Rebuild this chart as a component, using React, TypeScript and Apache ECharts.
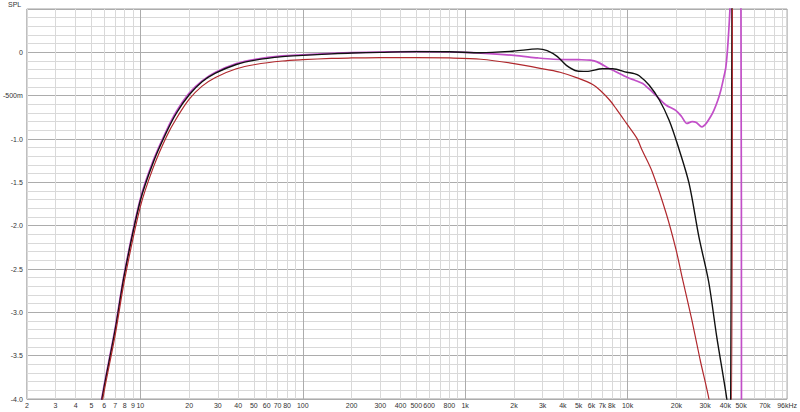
import React, { useEffect, useRef } from "react";
import * as echarts from "echarts";

// ---- axis ticks / labels ----
const decades = [1, 10, 100, 1000, 10000];
const multipliers = [1, 2, 3, 4, 5, 6, 7, 8, 9];
const labelFreqs = [
  2, 3, 4, 5, 6, 7, 8, 9, 10, 20, 30, 40, 50, 60, 70, 80, 100, 200, 300, 400,
  500, 600, 800, 1000, 2000, 3000, 4000, 5000, 6000, 7000, 8000, 10000, 20000,
  30000, 40000, 50000, 70000, 96000,
];
const majorFreqs = [10, 100, 1000, 10000];
const freqMin = 2;
const freqMax = 96000;
const splMin = -4;
const splMax = 0.5;

// ---- series: black ----
const blackFreq = [
  5.5, 6, 7, 8, 10, 12, 14.5, 16.7, 20, 24, 29, 39, 51, 75, 100, 150, 200, 300,
  500, 800, 1250, 2000, 2800, 3200, 3700, 4200, 4900, 5600, 7000, 8100, 9900,
  11000, 11800, 13600, 15700, 18000, 20200, 23900, 27500, 31600, 35400, 40700,
  41500, 42500, 43100, 44000,
];
const blackSpl = [
  -4.25, -3.85, -3.2, -2.55, -1.71, -1.27, -0.92, -0.7, -0.49, -0.34, -0.24,
  -0.14, -0.09, -0.05, -0.035, -0.018, -0.008, 0.0, 0.008, 0.006, -0.005, 0.015,
  0.04, 0.02, -0.05, -0.15, -0.215, -0.22, -0.19, -0.19, -0.23, -0.245, -0.27,
  -0.38, -0.55, -0.78, -1.05, -1.51, -2.13, -2.65, -3.28, -3.98, -4.15, -4.6,
  -4.3, 1.0,
];

// ---- series: purple ----
const purpleFreq = [
  5.5, 6, 7, 8, 10, 12, 14.5, 16.7, 20, 24, 29, 39, 51, 75, 100, 150, 200, 300,
  500, 800, 1250, 2000, 2800, 3500, 5000, 5900, 6500, 7750, 8200, 10000, 11000,
  12400, 13500, 15000, 17300, 19800, 21500, 23200, 25000, 26500, 28700, 30500,
  32500, 34000, 36000, 37500, 39000, 40300, 41500, 42900, 44000, 49700, 50300,
];
const purpleSpl = [
  -4.22, -3.83, -3.18, -2.53, -1.69, -1.25, -0.9, -0.68, -0.47, -0.33, -0.23,
  -0.13, -0.08, -0.04, -0.028, -0.012, -0.003, 0.003, 0.008, 0.005, -0.01,
  -0.035, -0.065, -0.08, -0.085, -0.09, -0.11, -0.19, -0.21, -0.29, -0.32,
  -0.36, -0.42, -0.5, -0.61, -0.67, -0.74, -0.82, -0.8, -0.81, -0.86, -0.82,
  -0.74, -0.67, -0.55, -0.44, -0.3, -0.17, 0.1, 0.6, 2.0, 2.0, -5.5,
];

// ---- series: red ----
const redFreq = [
  5.5, 6, 7, 8, 10, 12, 14.5, 16.7, 20, 24, 29, 39, 51, 75, 100, 150, 200, 300,
  500, 800, 1250, 2000, 3200, 3840, 5000, 6100, 6800, 7750, 8500, 9850, 11400,
  12300, 14200, 17300, 19900, 21700, 24900, 28000, 31700, 33500, 43200, 44200,
];
const redSpl = [
  -4.3, -3.9, -3.26, -2.62, -1.78, -1.33, -0.97, -0.76, -0.54, -0.39, -0.29,
  -0.19, -0.14, -0.1, -0.085, -0.07, -0.065, -0.06, -0.06, -0.065, -0.08,
  -0.13, -0.2, -0.23, -0.3, -0.37, -0.44, -0.55, -0.65, -0.82, -0.99, -1.13,
  -1.38, -1.86, -2.28, -2.6, -3.09, -3.55, -4.0, -4.3, -4.6, 1.0,
];

const lg = (f: number) => Math.log10(f);
const toPairs = (fs: number[], vs: number[]) => fs.map((f, i) => [lg(f), vs[i]]);

const gridFreqs: number[] = [];
decades.forEach((d) => multipliers.forEach((m) => gridFreqs.push(m * d)));

const fmtFreq = (v: number) => {
  const f = Math.round(Math.pow(10, v));
  if (f === 96000) return "96kHz";
  if (f >= 1000) return f / 1000 + "k";
  return String(f);
};

const fmtSpl = (v: number) => {
  const r = Math.round(v * 10) / 10;
  if (Math.abs(r) < 1e-9) return "0";
  if (r > 0) return "";
  if (Math.abs(r + 0.5) < 1e-9) return "-500m";
  return r.toFixed(1);
};

const FONT = "Liberation Sans, Arial, sans-serif";
const MINOR = "#d9d9d9";
const MAJOR = "#acacac";

export default function App() {
  const ref = useRef<HTMLDivElement>(null);
  useEffect(() => {
    document.body.style.margin = "0";
    if (!ref.current) return;
    const chart = echarts.init(ref.current, undefined, { renderer: "svg" });
    const lineCommon = {
      type: "line",
      showSymbol: false,
      smooth: 0.3,
      clip: true,
      silent: true,
    };
    chart.setOption({
      animation: false,
      backgroundColor: "#ffffff",
      grid: {
        left: 22,
        right: 11,
        top: 9,
        bottom: 13,
        show: true,
        borderColor: "#a0a0a0",
        borderWidth: 1,
        backgroundColor: "#ffffff",
      },
      graphic: [
        {
          type: "text",
          x: 8,
          y: 1,
          style: {
            text: "SPL",
            fontSize: 7,
            fill: "#333",
            fontFamily: FONT,
            verticalAlign: "top",
            align: "left",
          },
        },
      ],
      xAxis: [
        {
          type: "value",
          min: lg(freqMin),
          max: lg(freqMax),
          position: "bottom",
          axisLine: { show: false },
          axisTick: { show: false, customValues: gridFreqs.map(lg) },
          axisLabel: {
            customValues: labelFreqs.map(lg),
            formatter: fmtFreq,
            fontSize: 7,
            color: "#333",
            fontFamily: FONT,
            margin: 3,
          },
          splitLine: { show: true, lineStyle: { color: MINOR, width: 1 } },
        },
        {
          type: "value",
          min: lg(freqMin),
          max: lg(freqMax),
          position: "top",
          axisLine: { show: false },
          axisTick: { show: false, customValues: majorFreqs.map(lg) },
          axisLabel: { show: false },
          splitLine: { show: true, lineStyle: { color: MAJOR, width: 1 } },
        },
      ],
      yAxis: {
        type: "value",
        min: splMin,
        max: splMax,
        interval: 0.5,
        axisLine: { show: false },
        axisTick: { show: false },
        axisLabel: {
          formatter: fmtSpl,
          fontSize: 7,
          color: "#333",
          fontFamily: FONT,
          margin: 4,
        },
        splitLine: { show: true, lineStyle: { color: MAJOR, width: 1 } },
        minorTick: { show: false, splitNumber: 5 },
        minorSplitLine: { show: true, lineStyle: { color: MINOR, width: 1 } },
      },
      series: [
        {
          ...lineCommon,
          name: "purple",
          data: toPairs(purpleFreq, purpleSpl),
          lineStyle: { color: "#c24fc8", width: 1.7 },
        },
        {
          ...lineCommon,
          name: "black",
          data: toPairs(blackFreq, blackSpl),
          lineStyle: { color: "#111111", width: 1.4 },
        },
        {
          ...lineCommon,
          name: "red",
          data: toPairs(redFreq, redSpl),
          lineStyle: { color: "#b0282d", width: 1.2 },
        },
      ],
    });
    return () => chart.dispose();
  }, []);
  return <div ref={ref} style={{ width: 800, height: 412 }} />;
}
